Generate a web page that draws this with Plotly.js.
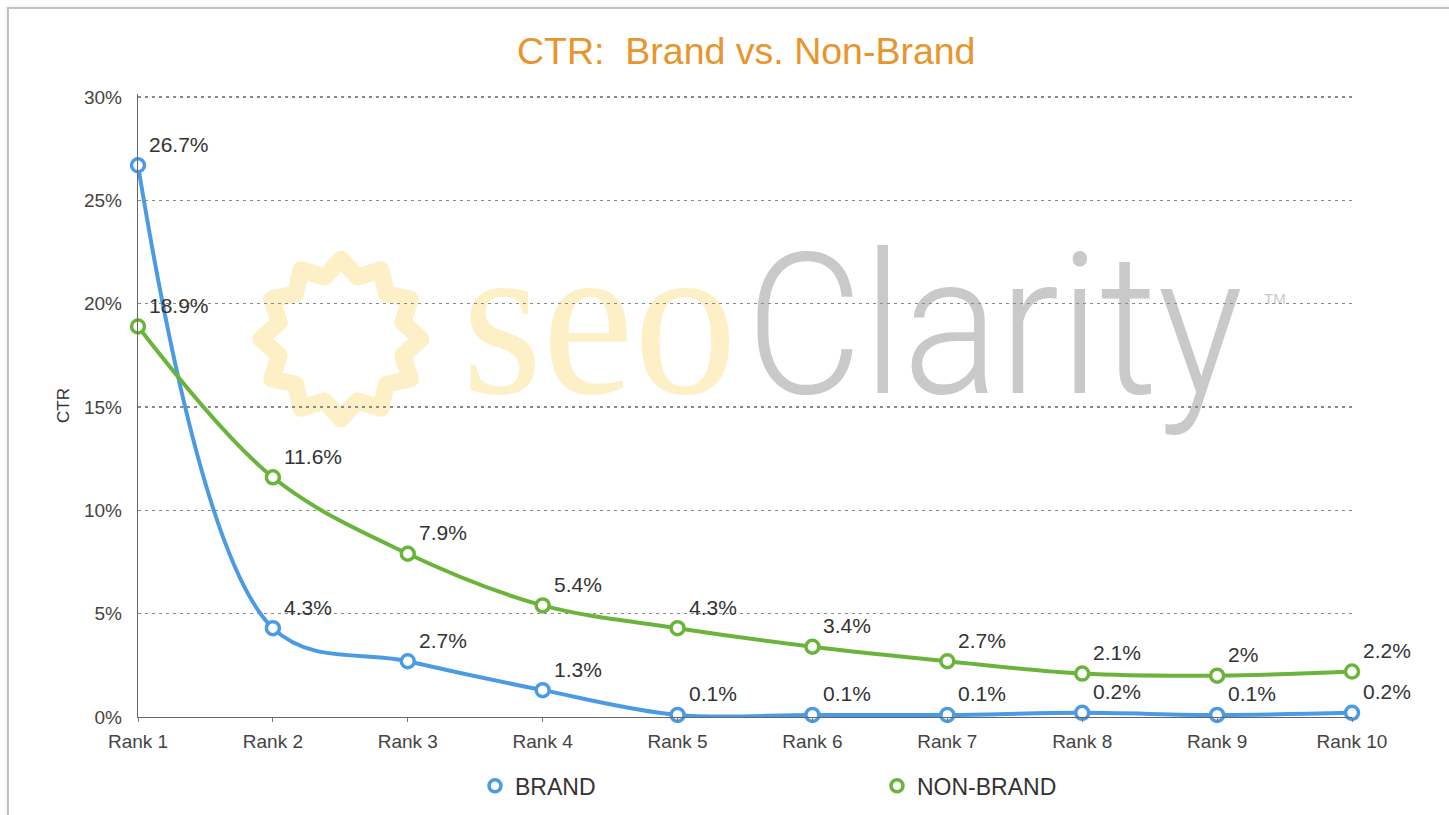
<!DOCTYPE html>
<html><head><meta charset="utf-8">
<script src="https://cdn.plot.ly/plotly-3.0.1.min.js"></script>
<style>
html,body{margin:0;padding:0;background:#fff;overflow:hidden;width:1449px;height:815px;}
#frame{position:absolute;left:7px;top:7px;width:1470px;height:840px;border:2px solid #c2c2c2;box-shadow:0 0 3px rgba(0,0,0,0.12);}
#wm{position:absolute;left:0;top:0;width:1449px;height:815px;}
#chart{position:absolute;left:0;top:0;width:1449px;height:815px;}
</style></head><body>
<div id="frame"></div>
<svg id="wm" width="1449" height="815" xmlns="http://www.w3.org/2000/svg">
  <polygon id="sun" fill="none" stroke="#FEF0C6" stroke-width="17" stroke-linejoin="round" points=""/>
  <text id="wmSeo" x="0" y="0" style="font-family:'Liberation Serif','Times New Roman','DejaVu Serif',serif;font-size:222px" fill="#FEF0C6">seo</text>
  <text id="wmClarity" x="0" y="0" style="font-family:Roboto,'Liberation Sans',sans-serif;font-weight:300;font-size:196px" fill="#C9C9C9">Clarity</text>
  <text x="1264" y="304" style="font-family:'Liberation Sans',sans-serif;font-size:15px" fill="#CACACA">TM</text>
</svg>
<div id="chart"></div>
<script>
// ---- data ----
var ranks = ['Rank 1','Rank 2','Rank 3','Rank 4','Rank 5','Rank 6','Rank 7','Rank 8','Rank 9','Rank 10'];
var brand = [26.7, 4.3, 2.7, 1.3, 0.1, 0.1, 0.1, 0.2, 0.1, 0.2];
var nonBrand = [18.9, 11.6, 7.9, 5.4, 4.3, 3.4, 2.7, 2.1, 2, 2.2];
var seriesNames = ['BRAND', 'NON-BRAND'];
var titleText = 'CTR:\u00a0 Brand vs. Non-Brand';

// decorative watermark (logo)
(function(){
  var cx = 341, cy = 339, n = 12, pts = [];
  for (var i = 0; i < 2*n; i++) {
    var r = (i % 2 === 0) ? 80 : 64;
    var a = -Math.PI/2 + i*Math.PI/n;
    pts.push((cx + r*Math.cos(a)).toFixed(1) + ',' + (cy + r*Math.sin(a)).toFixed(1));
  }
  document.getElementById('sun').setAttribute('points', pts.join(' '));
  function fit(id, x, y, w) {
    var el = document.getElementById(id);
    var nat = el.getComputedTextLength() || w;
    el.setAttribute('transform', 'translate(' + x + ',' + y + ') scale(' + (w / nat).toFixed(4) + ',1)');
  }
  fit('wmSeo', 462, 393, 275);
  fit('wmClarity', 746, 393, 497);
})();

var BLUE = '#4B9BE3', GREEN = '#6AB43B';
var FONT = 'Liberation Sans, Helvetica, Arial, sans-serif';

function lineTrace(y, color, name) {
  return {
    x: ranks, y: y, name: name, type: 'scatter', mode: 'lines+markers',
    line: {color: color, width: 4, shape: 'spline', smoothing: 1},
    marker: {symbol: 'circle', size: 13, color: '#ffffff', line: {color: color, width: 3.5}},
    cliponaxis: false, showlegend: false, hoverinfo: 'x+y'
  };
}
function legendTrace(color, name) {
  return {
    x: [null], y: [null], name: name, type: 'scatter', mode: 'markers',
    marker: {symbol: 'circle', size: 12, color: '#ffffff', line: {color: color, width: 3.5}},
    showlegend: true
  };
}

var traces = [
  lineTrace(brand, BLUE, seriesNames[0]),
  lineTrace(nonBrand, GREEN, seriesNames[1]),
  legendTrace(BLUE, seriesNames[0]),
  legendTrace(GREEN, seriesNames[1])
];

var annotations = [];
[brand, nonBrand].forEach(function(arr){
  arr.forEach(function(v, i){
    annotations.push({
      x: ranks[i], y: v, xref: 'x', yref: 'y', text: v + '%',
      showarrow: false, xanchor: 'left', yanchor: 'middle', xshift: 9, yshift: 21,
      font: {family: FONT, size: 21, color: '#333333'}
    });
  });
});

var layout = {
  width: 1449, height: 815,
  paper_bgcolor: 'rgba(0,0,0,0)', plot_bgcolor: 'rgba(0,0,0,0)',
  margin: {l: 138, r: 97, t: 94, b: 98, autoexpand: false},
  font: {family: FONT, color: '#444444', size: 19},
  title: {text: titleText, x: 0.515, xanchor: 'center', y: 0.938, yanchor: 'middle',
          font: {family: FONT, size: 37.5, color: '#E8952B'}},
  xaxis: {
    type: 'category', range: [0, 9], showgrid: false, zeroline: false,
    showline: true, linecolor: '#666666', linewidth: 1.2,
    ticks: 'outside', ticklen: 4, tickcolor: '#777777',
    tickfont: {family: FONT, size: 19, color: '#444444'}, ticklabelstandoff: 3
  },
  yaxis: {
    range: [0, 30.15], tickvals: [0, 5, 10, 15, 20, 25, 30], ticktext: ['0%','5%','10%','15%','20%','25%','30%'],
    zeroline: false,
    showline: true, linecolor: '#666666', linewidth: 1.2,
    showgrid: true, gridcolor: '#8a8a8a', gridwidth: 1.5, griddash: '3px,4px',
    ticks: '', tickfont: {family: FONT, size: 19, color: '#444444'}, ticklabelstandoff: 11,
    title: {text: 'CTR', font: {family: FONT, size: 17, color: '#333333'}, standoff: 10}
  },
  legend: {
    orientation: 'h', x: 0.2776, xanchor: 'left', y: -0.1105, yanchor: 'middle',
    entrywidth: 357, entrywidthmode: 'pixels',
    font: {family: FONT, size: 23, color: '#333333'}, bgcolor: 'rgba(0,0,0,0)'
  },
  annotations: annotations,
  showlegend: true
};

Plotly.newPlot('chart', traces, layout, {displayModeBar: false, staticPlot: true});
</script>
</body></html>
